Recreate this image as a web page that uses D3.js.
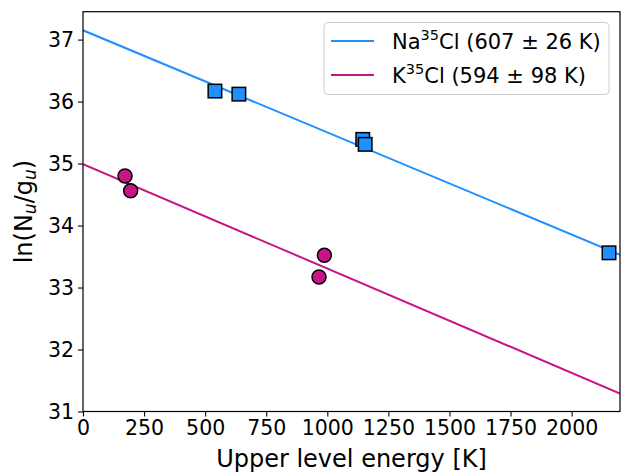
<!DOCTYPE html>
<html><head><meta charset="utf-8">
<script src="https://cdn.jsdelivr.net/npm/d3@7"></script>
<style>body{margin:0;background:#fff;} text{font-family:"DejaVu Sans",sans-serif;}</style>
</head><body><svg id="c" width="629" height="474"></svg>
<script>
const naEnergy = [540, 638, 1145, 1155, 2153];
const naLnN = [36.17, 36.12, 35.39, 35.31, 33.56];
const kEnergy = [172, 195, 966, 988];
const kLnN = [34.80, 34.56, 33.17, 33.52];
const naFit = {intercept: 37.15, temp: 607};
const kFit = {intercept: 34.99, temp: 594};
const xTicks = [0, 250, 500, 750, 1000, 1250, 1500, 1750, 2000];
const yTicks = [31, 32, 33, 34, 35, 36, 37];
const legendLabels = [["Na","35","Cl (607 ± 26 K)"],["K","35","Cl (594 ± 98 K)"]];
const colors = ["#1E90FF", "#C71585"];

const svg = d3.select("#c");
const L = 83, R = 620, T = 11.7, B = 411.5;
const x = d3.scaleLinear().domain([0, 2198]).range([L, R]);
const y = d3.scaleLinear().domain([31, 37.45]).range([B, T]);

const g = svg.append("g");
svg.append("clipPath").attr("id", "clip").append("rect").attr("x", L).attr("y", T).attr("width", R-L).attr("height", B-T);
[naFit, kFit].forEach((f, i) => {
  const xs = [0, 2198];
  g.append("line").attr("clip-path", "url(#clip)")
    .attr("x1", x(xs[0])).attr("y1", y(f.intercept - xs[0]/f.temp))
    .attr("x2", x(xs[1])).attr("y2", y(f.intercept - xs[1]/f.temp))
    .attr("stroke", colors[i]).attr("stroke-width", 2);
});
const s = 13.5;
g.selectAll(".sq").data(naEnergy.map((e,i)=>[e,naLnN[i]])).enter().append("rect")
  .attr("x", d=>x(d[0])-s/2).attr("y", d=>y(d[1])-s/2).attr("width", s).attr("height", s)
  .attr("fill", colors[0]).attr("stroke", "#000").attr("stroke-width", 1.5);
g.selectAll(".ci").data(kEnergy.map((e,i)=>[e,kLnN[i]])).enter().append("circle")
  .attr("cx", d=>x(d[0])).attr("cy", d=>y(d[1])).attr("r", 7)
  .attr("fill", colors[1]).attr("stroke", "#000").attr("stroke-width", 1.5);

const xAxis = svg.append("g").attr("transform", `translate(0,${B})`)
  .call(d3.axisBottom(x).tickValues(xTicks).tickFormat(d3.format("d")).tickSizeOuter(0).tickSize(5).tickPadding(4));
const yAxis = svg.append("g").attr("transform", `translate(${L},0)`)
  .call(d3.axisLeft(y).tickValues(yTicks).tickFormat(d3.format("d")).tickSizeOuter(0).tickSize(5).tickPadding(4));
[xAxis, yAxis].forEach(a => {
  a.select(".domain").remove();
  a.selectAll("line").attr("stroke", "#000").attr("stroke-width", 1.1);
  a.selectAll("text").attr("font-size", "20.5px").attr("fill", "#000").style("font-family", "DejaVu Sans");
});
yAxis.selectAll("text").attr("dy", "0.36em");
svg.append("rect").attr("x", L).attr("y", T).attr("width", R-L).attr("height", B-T)
  .attr("fill", "none").attr("stroke", "#000").attr("stroke-width", 1.2);

svg.append("text").attr("x", (L+R)/2).attr("y", 466.5).attr("text-anchor", "middle")
  .attr("font-size", "24px").text("Upper level energy [K]");
const yl = svg.append("text").attr("transform", `translate(32,${(T+B)/2}) rotate(-90)`)
  .attr("text-anchor", "middle").attr("font-size", "24px");
yl.append("tspan").text("ln(N");
yl.append("tspan").attr("font-size", "17px").attr("font-style", "italic").attr("dy", "4").text("u");
yl.append("tspan").attr("dy", "-4").text("/g");
yl.append("tspan").attr("font-size", "17px").attr("font-style", "italic").attr("dy", "4").text("u");
yl.append("tspan").attr("dy", "-4").text(")");

const lg = svg.append("g");
lg.append("rect").attr("x", 324).attr("y", 22.5).attr("width", 285).attr("height", 72).attr("rx", 4)
  .attr("fill", "#fff").attr("fill-opacity", 0.8).attr("stroke", "#ccc").attr("stroke-width", 1);
legendLabels.forEach((lab, i) => {
  const yy = 41 + i*34;
  lg.append("line").attr("x1", 331).attr("x2", 374).attr("y1", yy).attr("y2", yy)
    .attr("stroke", colors[i]).attr("stroke-width", 2);
  const t = lg.append("text").attr("x", 392).attr("y", yy + 7.5).attr("font-size", "21px");
  t.append("tspan").text(lab[0]);
  t.append("tspan").attr("font-size", "14.5px").attr("dy", "-8.5").text(lab[1]);
  t.append("tspan").attr("dy", "8.5").text(lab[2]);
});
</script></body></html>
